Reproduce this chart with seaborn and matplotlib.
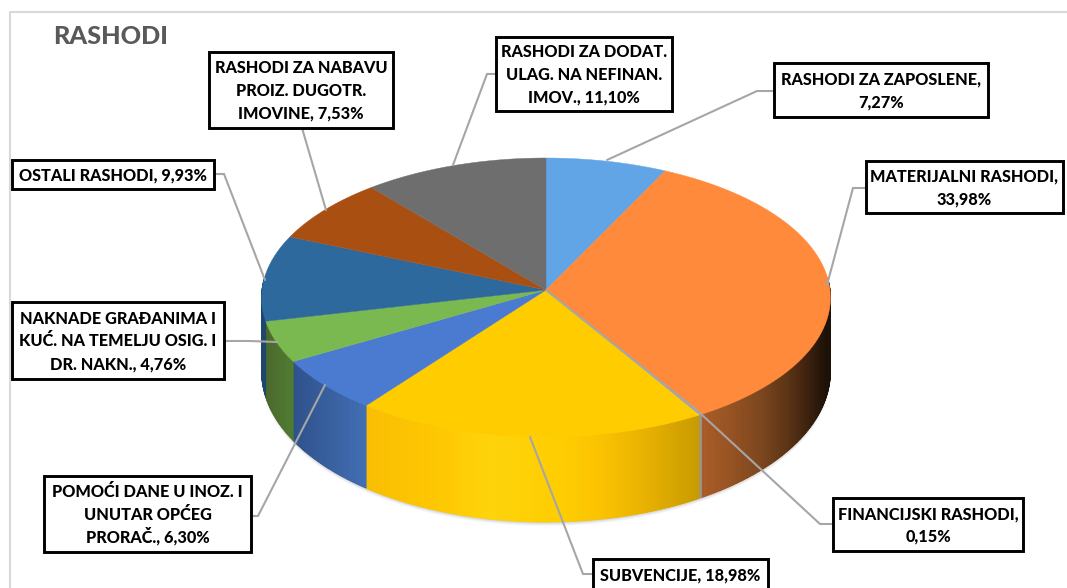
import numpy as np
import matplotlib
matplotlib.use("Agg")
import matplotlib.pyplot as plt
from matplotlib.patches import Rectangle
import seaborn as sns

categories = ["RASHODI ZA ZAPOSLENE,\n7,27%", "MATERIJALNI RASHODI,\n33,98%",
              "FINANCIJSKI RASHODI,\n0,15%", "SUBVENCIJE, 18,98%",
              "POMOĆI DANE U INOZ. I\nUNUTAR OPĆEG\nPRORAČ., 6,30%",
              "NAKNADE GRAĐANIMA I\nKUĆ. NA TEMELJU OSIG. I\nDR. NAKN., 4,76%",
              "OSTALI RASHODI, 9,93%",
              "RASHODI ZA NABAVU\nPROIZ. DUGOTR.\nIMOVINE, 7,53%",
              "RASHODI ZA DODAT.\nULAG. NA NEFINAN.\nIMOV., 11,10%"]
values = [7.27, 33.98, 0.15, 18.98, 6.30, 4.76, 9.93, 7.53, 11.10]
title = "RASHODI"

sns.set_theme(style="white")
plt.rcParams['font.family'] = ['Lato', 'DejaVu Sans']
palette = sns.color_palette(["#62A5E6", "#FF8A3C", "#A5A5A5", "#FFCC00", "#4A7BD0",
                             "#7AB850", "#2E699D", "#A94F12", "#6E6E6E"])

W, H = 1067, 588
fig = plt.figure(figsize=(W / 100, H / 100), dpi=100)
ax = fig.add_axes([0, 0, 1, 1])
ax.set_xlim(0, W)
ax.set_ylim(H, 0)
ax.axis("off")

cx, cy, rx = 546, 290, 284
ry_mean, ry_persp, k = 139.5, 7.5, 0.055


def project(theta, r=1.0):
    s, c = np.sin(theta), np.cos(theta)
    x = cx + rx * r * s * (1 - k * r * c)
    y = cy - c * r * (ry_mean - ry_persp * r * c)
    return x, y


def depth(theta):
    return 73 - 12 * np.cos(theta)


# wall colour stops: x pixel -> rgb
wall_stops = {
    1: [(700, (172, 92, 38)), (730, (150, 82, 34)), (760, (125, 70, 30)), (785, (95, 54, 22)),
        (805, (65, 36, 15)), (825, (30, 18, 8))],
    2: [(697, (150, 150, 150)), (702, (150, 150, 150))],
    3: [(366, (250, 190, 0)), (440, (255, 200, 0)), (490, (255, 212, 10)), (560, (255, 205, 0)),
        (600, (252, 195, 0)), (650, (230, 175, 0)), (698, (200, 155, 0))],
    4: [(294, (48, 82, 140)), (366, (65, 110, 180))],
    5: [(266, (75, 105, 45)), (294, (80, 125, 50))],
    6: [(262, (30, 70, 110)), (270, (30, 70, 110))],
}

edges = np.radians(np.concatenate([[0], np.cumsum(values)]) * 3.6)

# soft shadow below the wall
th = np.radians(np.linspace(90, 270, 200))
xs, ys = project(th)
for off, a in zip((4, 3, 2, 1), (0.03, 0.04, 0.05, 0.06)):
    ax.fill(np.r_[xs, xs[::-1]], np.r_[ys, ys[::-1] + depth(th[::-1]) + off],
            color="black", alpha=a, lw=0, zorder=1)

# side wall
lo, hi = np.radians(85), np.radians(275)
for i, stops in wall_stops.items():
    a0, a1 = max(edges[i], lo), min(edges[i + 1], hi)
    if a1 <= a0:
        continue
    n = max(2, int(np.degrees(a1 - a0) * 3) + 1)
    grid = np.linspace(a0, a1, n)
    sx = [p[0] for p in stops]
    sc = np.array([p[1] for p in stops]) / 255
    for t0, t1 in zip(grid[:-1], grid[1:]):
        seg = np.linspace(t0, t1, 3)
        x, y = project(seg)
        d = depth(seg)
        col = [np.interp(x.mean(), sx, sc[:, j]) for j in range(3)]
        ax.fill(np.r_[x, x[::-1]], np.r_[y, (y + d)[::-1]], color=col, lw=0.6, zorder=2)

# top surface
for i, col in enumerate(palette):
    seg = np.linspace(edges[i], edges[i + 1], max(3, int(values[i] * 6)))
    x, y = project(seg)
    ax.fill(np.r_[cx, x], np.r_[cy, y], color=col, lw=0.3, zorder=3)

# frame
line = "#D9D9D9"
ax.plot([10, 10, W], [H, 12, 12], color=line, lw=1.5, zorder=0)

# leader lines
leaders = [
    [(774, 91), (757, 91), (607, 160)],
    [(866, 188), (853, 188), (827, 285)],
    [(833, 524), (820, 524), (700, 413), (546, 290)],
    [(593, 574), (583, 574), (530, 437)],
    [(251, 516), (258, 516), (325, 385)],
    [(224, 341), (250, 341), (277, 342)],
    [(214, 174), (224, 174), (265, 280)],
    [(302, 128), (326, 210)],
    [(496, 74), (487, 74), (453, 165)],
]
for pts in leaders:
    px, py = zip(*pts)
    ax.plot(px, py, color="#A6A6A6", lw=1.5, zorder=4, solid_joinstyle="miter")

# label boxes: left, top, right, bottom
boxes = [
    (774, 63, 988, 117), (866, 161, 1063, 213), (833, 498, 1023, 551),
    (593, 559, 768, 595), (44, 476, 251, 552), (12, 302, 224, 379),
    (12, 160, 214, 189), (209, 52, 393, 128), (496, 37, 672, 111),
]
pitch = 22.8
for (l, t, r, b), label in zip(boxes, categories):
    ax.add_patch(Rectangle((l, t), r - l, b - t, fc="white", ec="black", lw=2.1, zorder=5,
                           clip_on=True))
    yc = (t + b) / 2 if b <= H else 574
    rows = label.split("\n")
    for j, row in enumerate(rows):
        base = yc + (j - (len(rows) - 1) / 2) * pitch + 6
        ax.text((l + r) / 2, base, row, ha="center", va="baseline", fontsize=11.7,
                fontweight="black", color="black", zorder=6)

ax.text(53, 36, title, ha="left", va="center", fontsize=18.2, fontweight="black",
        color="#595959", zorder=6)

fig.savefig("out.png", dpi=100)
